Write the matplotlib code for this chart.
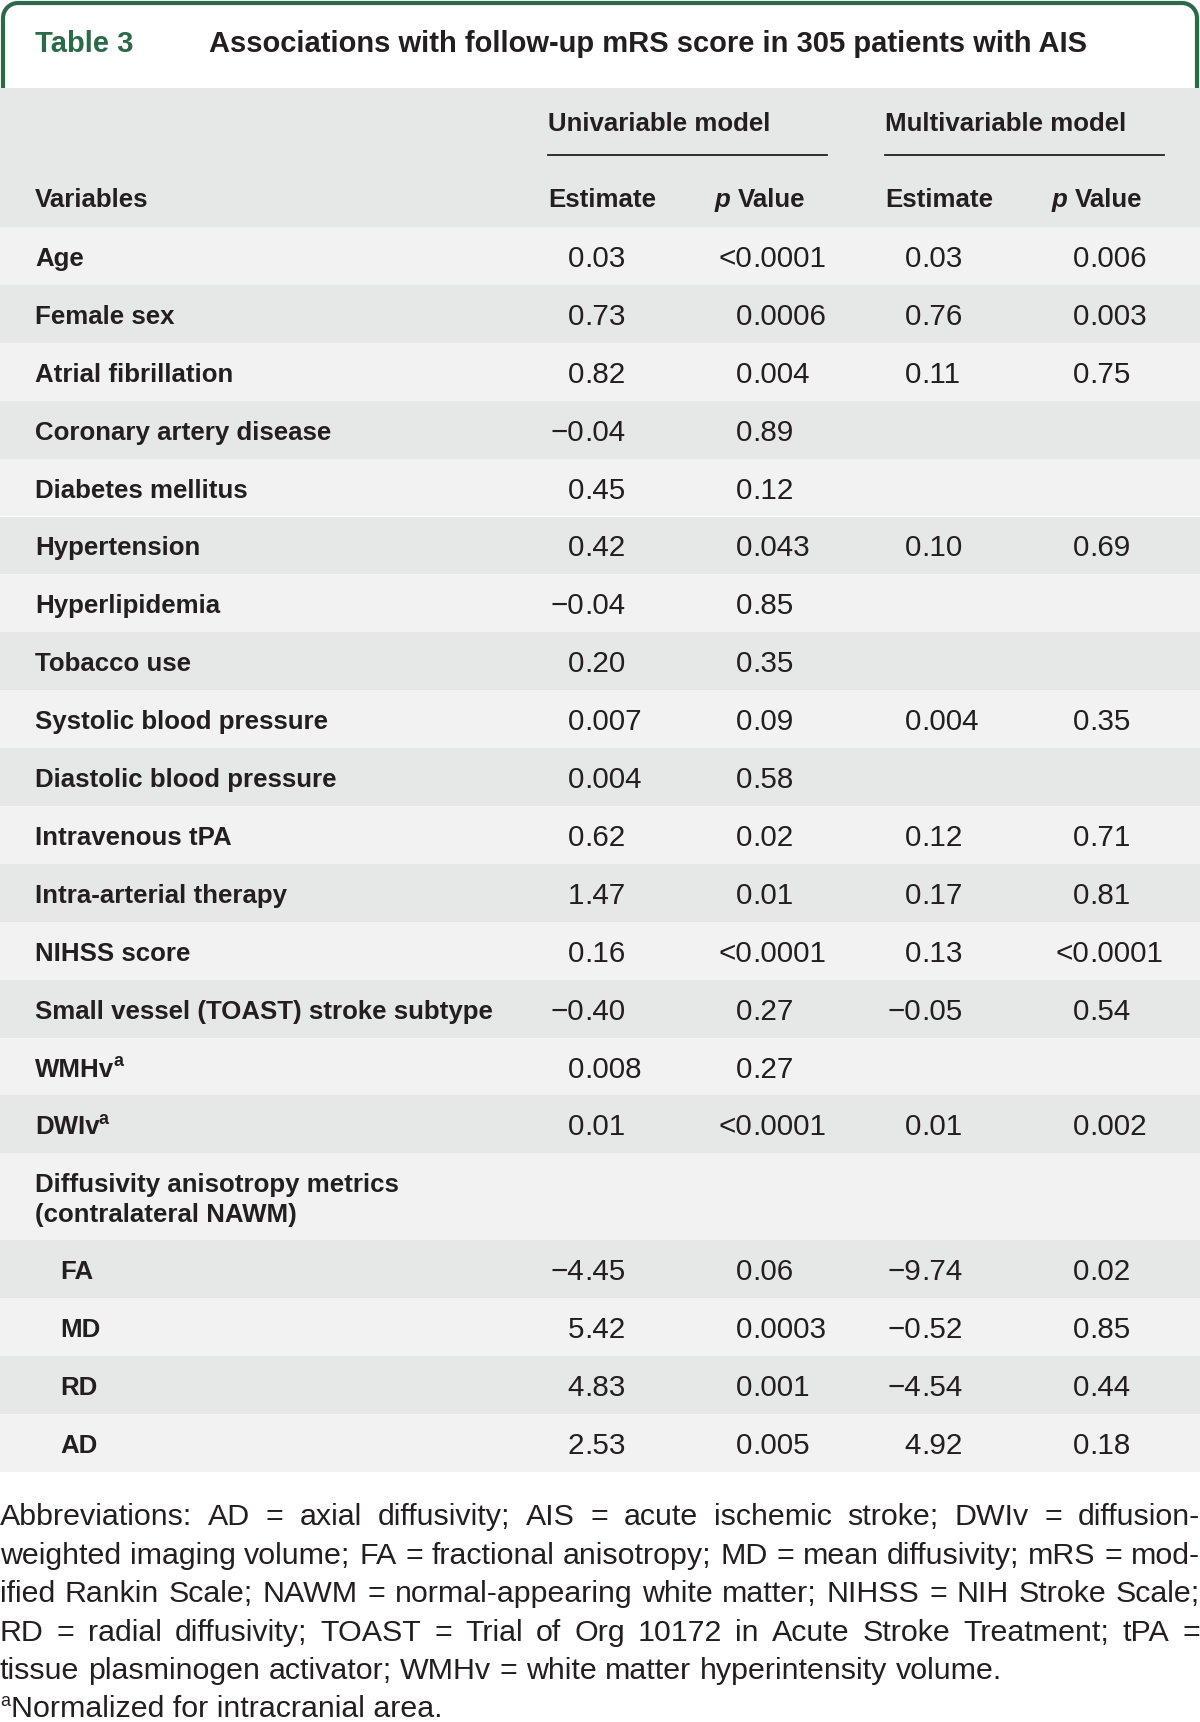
import matplotlib
matplotlib.use('Agg')
import matplotlib.pyplot as plt
from matplotlib.patches import Arc, Rectangle
from matplotlib import font_manager

# Table content
variables = ['Age', 'Female sex', 'Atrial fibrillation', 'Coronary artery disease',
             'Diabetes mellitus', 'Hypertension', 'Hyperlipidemia', 'Tobacco use',
             'Systolic blood pressure', 'Diastolic blood pressure', 'Intravenous tPA',
             'Intra-arterial therapy', 'NIHSS score', 'Small vessel (TOAST) stroke subtype',
             'WMHv', 'DWIv',
             'Diffusivity anisotropy metrics\n(contralateral NAWM)',
             'FA', 'MD', 'RD', 'AD']
superscript = ['', '', '', '', '', '', '', '', '', '', '', '', '', '',
               'a', 'a', '', '', '', '', '']
indent = [0] * 17 + [1, 1, 1, 1]
uni_est = ['0.03', '0.73', '0.82', '\u22120.04', '0.45', '0.42', '\u22120.04', '0.20',
           '0.007', '0.004', '0.62', '1.47', '0.16', '\u22120.40', '0.008', '0.01',
           '', '\u22124.45', '5.42', '4.83', '2.53']
uni_p = ['<0.0001', '0.0006', '0.004', '0.89', '0.12', '0.043', '0.85', '0.35',
         '0.09', '0.58', '0.02', '0.01', '<0.0001', '0.27', '0.27', '<0.0001',
         '', '0.06', '0.0003', '0.001', '0.005']
multi_est = ['0.03', '0.76', '0.11', '', '', '0.10', '', '',
             '0.004', '', '0.12', '0.17', '0.13', '\u22120.05', '', '0.01',
             '', '\u22129.74', '\u22120.52', '\u22124.54', '4.92']
multi_p = ['0.006', '0.003', '0.75', '', '', '0.69', '', '',
           '0.35', '', '0.71', '0.81', '<0.0001', '0.54', '', '0.002',
           '', '0.02', '0.85', '0.44', '0.18']

title_num = 'Table 3'
title = 'Associations with follow-up mRS score in 305 patients with AIS'
footnote_lines = [
    'Abbreviations: AD = axial diffusivity; AIS = acute ischemic stroke; DWIv = diffusion-',
    'weighted imaging volume; FA = fractional anisotropy; MD = mean diffusivity; mRS = mod-',
    'ified Rankin Scale; NAWM = normal-appearing white matter; NIHSS = NIH Stroke Scale;',
    'RD = radial diffusivity; TOAST = Trial of Org 10172 in Acute Stroke Treatment; tPA =',
    'tissue plasminogen activator; WMHv = white matter hyperintensity volume.',
]
footnote_a = 'Normalized for intracranial area.'

# colours
green = '#2a6a47'
dark_bg = '#e6e7e7'
light_bg = '#f2f2f2'
ink = '#231f20'

installed = {f.name for f in font_manager.fontManager.ttflist}
font = 'Liberation Sans' if 'Liberation Sans' in installed else 'DejaVu Sans'
plt.rcParams['font.family'] = font

fig = plt.figure(figsize=(12, 17.22), dpi=100)
ax = fig.add_axes([0, 0, 1, 1])
ax.set_xlim(0, 1200)
ax.set_ylim(1722, 0)
ax.axis('off')
renderer = fig.canvas.get_renderer()


def text_width(s, **kw):
    t = ax.text(0, 0, s, **kw)
    w = t.get_window_extent(renderer).width
    t.remove()
    return w


# green frame round the title
lw = 3
ax.plot([3, 3], [88, 18], color=green, lw=lw, solid_capstyle='butt')
ax.plot([18, 1182], [3, 3], color=green, lw=lw, solid_capstyle='butt')
ax.plot([1197, 1197], [18, 88], color=green, lw=lw, solid_capstyle='butt')
ax.add_patch(Arc((18, 18), 30, 30, theta1=180, theta2=270, color=green, lw=lw))
ax.add_patch(Arc((1182, 18), 30, 30, theta1=270, theta2=360, color=green, lw=lw))

ax.text(35, 44, title_num, color=green, fontsize=21, fontweight='bold', va='center')
ax.text(209, 44, title, color=ink, fontsize=21, fontweight='bold', va='center')

# header block
head_top, head_bot = 88, 227
ax.add_patch(Rectangle((0, head_top), 1200, head_bot - head_top, color=dark_bg, lw=0))
hs = 18.6
ax.text(548, 124, 'Univariable model', fontsize=hs, fontweight='bold', color=ink, va='center')
ax.text(885, 124, 'Multivariable model', fontsize=hs, fontweight='bold', color=ink, va='center')
ax.plot([548, 827], [155, 155], color=ink, lw=1.3)
ax.plot([885, 1164], [155, 155], color=ink, lw=1.3)
ax.text(35, 200, 'Variables', fontsize=hs, fontweight='bold', color=ink, va='center')
for x in (548, 885):
    ax.text(x, 200, 'Estimate', fontsize=hs, fontweight='bold', color=ink, va='center')
pw = text_width('p ', fontsize=hs, fontweight='bold', style='italic')
for x in (715, 1052):
    ax.text(x, 200, 'p', fontsize=hs, fontweight='bold', style='italic', color=ink, va='center')
    ax.text(x + pw, 200, 'Value', fontsize=hs, fontweight='bold', color=ink, va='center')

# body rows
row_h = 57.9
tall_h = 87
dec_x = [584, 752, 921, 1089]
ns = 21.3


def put_number(x, y, s):
    if not s:
        return
    head, tail = s.split('.')
    ax.text(x, y, head, fontsize=ns, color=ink, ha='right', va='center')
    ax.text(x, y, '.' + tail, fontsize=ns, color=ink, ha='left', va='center')


y = head_bot
for i, name in enumerate(variables):
    h = tall_h if '\n' in name else row_h
    ax.add_patch(Rectangle((0, y), 1200, h, color=light_bg if i % 2 == 0 else dark_bg, lw=0))
    yc = y + h / 2 + 3
    x0 = 60 if indent[i] else 35
    ax.text(x0, yc, name, fontsize=hs, fontweight='bold', color=ink, va='center',
            linespacing=1.35)
    if superscript[i]:
        w = text_width(name, fontsize=hs, fontweight='bold')
        ax.text(x0 + w - 1, yc - 8, superscript[i], fontsize=13, fontweight='bold',
                color=ink, va='center')
    for x, col in zip(dec_x, (uni_est, uni_p, multi_est, multi_p)):
        put_number(x, yc, col[i])
    y += h

# footnote, justified like the journal layout
fs = 21.9
line_y = 1517
gap_y = 38.6
space_w = text_width('a b', fontsize=fs) - text_width('ab', fontsize=fs)
for k, line in enumerate(footnote_lines):
    ly = line_y + k * gap_y
    words = line.split(' ')
    widths = [text_width(wd, fontsize=fs) for wd in words]
    if k < len(footnote_lines) - 1:
        gap = (1200 - sum(widths)) / (len(words) - 1)
    else:
        gap = space_w
    x = 0
    for wd, w in zip(words, widths):
        ax.text(x, ly, wd, fontsize=fs, color=ink, va='center')
        x += w + gap

# last line sits on the bottom edge; keep it inside the picture
ax.text(0, 1706, 'a', fontsize=13, color=ink, va='baseline')
ax.text(11, 1717, footnote_a, fontsize=fs, color=ink, va='baseline')

fig.savefig('out.png', dpi=100, facecolor='white')
